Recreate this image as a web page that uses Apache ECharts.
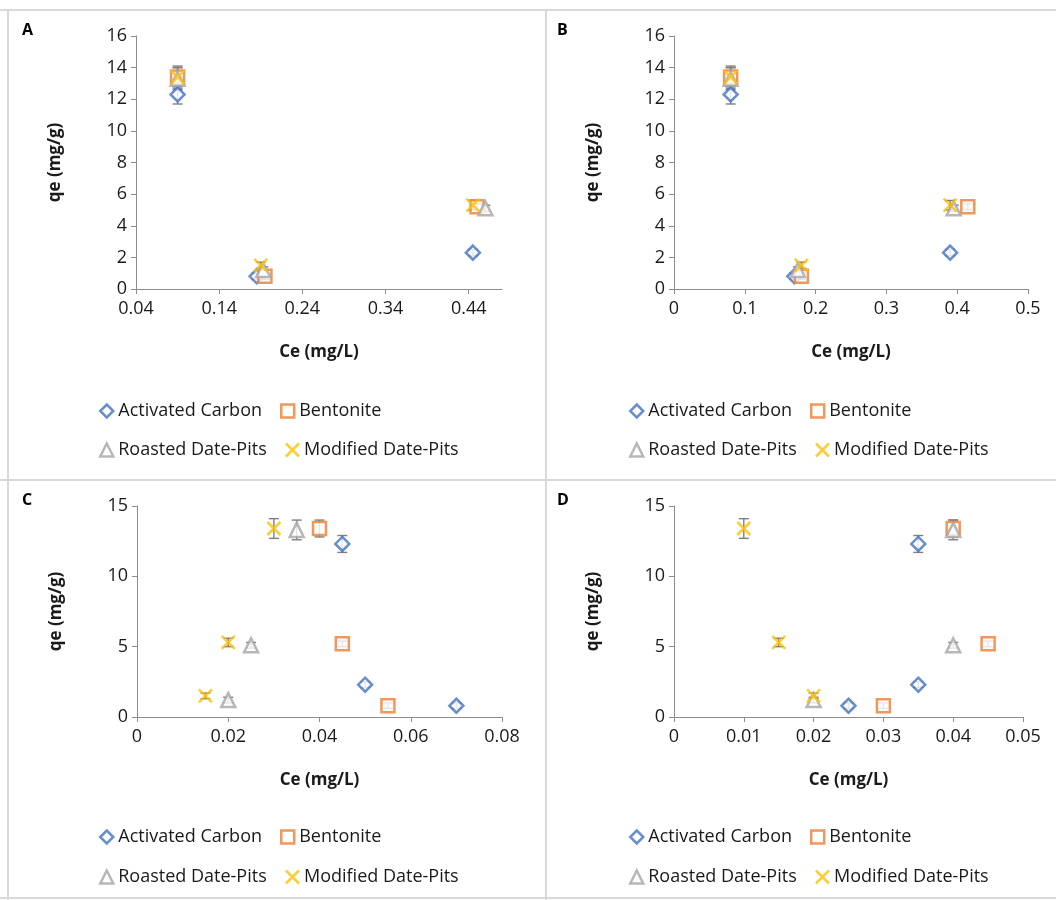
<!DOCTYPE html>
<html>
<head>
<meta charset="utf-8">
<script src="https://cdn.jsdelivr.net/npm/echarts@6/dist/echarts.min.js"></script>
<style>
html,body{margin:0;padding:0;background:#fff;}
#c{width:1056px;height:900px;}
</style>
</head>
<body>
<div id="c"></div>
<script>
// ---- data ----
const seriesNames = ['Activated Carbon', 'Bentonite', 'Roasted Date-Pits', 'Modified Date-Pits'];
const panelLabels = ['A', 'B', 'C', 'D'];

// qe (mg/g) values per adsorbent (three points each)
const qeActivated = [12.3, 0.8, 2.3];
const qeBentonite = [13.4, 0.8, 5.2];
const qeRoasted = [13.3, 1.2, 5.1];
const qeModified = [13.4, 1.5, 5.3];

// error (± mg/g)
const errActivated = [0.6, 0.2, 0.2];
const errBentonite = [0.6, 0.2, 0.2];
const errRoasted = [0.7, 0.2, 0.2];
const errModified = [0.7, 0.2, 0.3];

// Ce (mg/L) per panel
const ceA_Activated = [0.09, 0.185, 0.445];
const ceA_Bentonite = [0.09, 0.195, 0.45];
const ceA_Roasted = [0.09, 0.193, 0.46];
const ceA_Modified = [0.09, 0.19, 0.445];

const ceB_Activated = [0.08, 0.17, 0.39];
const ceB_Bentonite = [0.08, 0.18, 0.415];
const ceB_Roasted = [0.08, 0.175, 0.395];
const ceB_Modified = [0.08, 0.18, 0.39];

const ceC_Activated = [0.045, 0.07, 0.05];
const ceC_Bentonite = [0.04, 0.055, 0.045];
const ceC_Roasted = [0.035, 0.02, 0.025];
const ceC_Modified = [0.03, 0.015, 0.02];

const ceD_Activated = [0.035, 0.025, 0.035];
const ceD_Bentonite = [0.04, 0.03, 0.045];
const ceD_Roasted = [0.04, 0.02, 0.04];
const ceD_Modified = [0.01, 0.02, 0.015];

// axis tick settings
const xMin = [0.04, 0, 0, 0];
const xMax = [0.48, 0.5, 0.08, 0.05];
const xStep = [0.1, 0.1, 0.02, 0.01];
const yMax = [16, 16, 15, 15];
const yStep = [2, 2, 5, 5];

// ---- build ----
const FONT = '"Open Sans"';
const FS = 18;
const colors = ['#4472C4', '#ED7D31', '#A5A5A5', '#FFC000'];
const symbols = ['diamond', 'rect', 'triangle', 'path://M0,0L10,10M10,0L0,10'];
const symbolSizes = [14, 13, 14, 13];
const qeAll = [qeActivated, qeBentonite, qeRoasted, qeModified];
const errAll = [errActivated, errBentonite, errRoasted, errModified];
const ceAll = [
  [ceA_Activated, ceA_Bentonite, ceA_Roasted, ceA_Modified],
  [ceB_Activated, ceB_Bentonite, ceB_Roasted, ceB_Modified],
  [ceC_Activated, ceC_Bentonite, ceC_Roasted, ceC_Modified],
  [ceD_Activated, ceD_Bentonite, ceD_Roasted, ceD_Modified]
];

const grids = [
  {left: 136, top: 36, width: 366, height: 253},
  {left: 674, top: 36, width: 354, height: 253},
  {left: 137, top: 506, width: 365, height: 211},
  {left: 674, top: 506, width: 349, height: 211}
];
const legendPos = [
  {left: 99, top1: 402, top2: 441},
  {left: 629, top1: 402, top2: 441},
  {left: 99, top1: 828, top2: 868},
  {left: 629, top1: 828, top2: 868}
];

const axisCommon = {
  axisLine: {show: true, lineStyle: {color: '#8c8c8c', width: 1}},
  axisTick: {show: true, length: 5, inside: false, lineStyle: {color: '#8c8c8c'}},
  splitLine: {show: false},
  axisLabel: {color: '#1a1a1a', fontFamily: FONT, fontSize: FS},
  nameTextStyle: {color: '#1a1a1a', fontFamily: FONT, fontSize: FS - 1, fontWeight: 'bold'}
};

const xAxes = [], yAxes = [], series = [], legends = [];
for (let p = 0; p < 4; p++) {
  xAxes.push(Object.assign({}, axisCommon, {
    type: 'value', gridIndex: p, min: xMin[p], max: xMax[p], interval: xStep[p],
    name: 'Ce (mg/L)', nameLocation: 'middle', nameGap: 55,
    axisLabel: Object.assign({}, axisCommon.axisLabel, {margin: 11, showMaxLabel: p !== 0,
      formatter: v => String(+v.toFixed(3))})
  }));
  yAxes.push(Object.assign({}, axisCommon, {
    type: 'value', gridIndex: p, min: 0, max: yMax[p], interval: yStep[p],
    name: 'qe (mg/g)', nameLocation: 'middle', nameGap: 72,
    axisLabel: Object.assign({}, axisCommon.axisLabel, {margin: 9})
  }));
  for (let s = 0; s < 4; s++) {
    const errData = ceAll[p][s].map((x, i) => [x, qeAll[s][i], errAll[s][i]]);
    series.push({
      type: 'custom', xAxisIndex: p, yAxisIndex: p, z: 1, silent: true,
      encode: {x: 0, y: 1},
      data: errData,
      renderItem: function (params, api) {
        const x = api.value(0), y = api.value(1), e = api.value(2);
        const t = api.coord([x, y + e]), b = api.coord([x, y - e]);
        const w = 5, st = {stroke: '#7f7f7f', lineWidth: 1.4};
        return {type: 'group', children: [
          {type: 'line', shape: {x1: t[0], y1: t[1], x2: b[0], y2: b[1]}, style: st},
          {type: 'line', shape: {x1: t[0] - w, y1: t[1], x2: t[0] + w, y2: t[1]}, style: st},
          {type: 'line', shape: {x1: b[0] - w, y1: b[1], x2: b[0] + w, y2: b[1]}, style: st}
        ]};
      }
    });
  }
  for (let s = 0; s < 4; s++) {
    series.push({
      type: 'scatter', name: seriesNames[s], xAxisIndex: p, yAxisIndex: p, z: 3,
      symbol: symbols[s], symbolSize: symbolSizes[s],
      itemStyle: {color: s === 3 ? 'rgba(255,255,255,0)' : '#ffffff', borderColor: colors[s], borderWidth: 2.5},
      data: ceAll[p][s].map((x, i) => [x, qeAll[s][i]])
    });
  }
  const lp = legendPos[p];
  const legCommon = {
    left: lp.left, orient: 'horizontal', itemWidth: 13, itemHeight: 13, itemGap: 18, padding: 0,
    textStyle: {color: '#1a1a1a', fontFamily: FONT, fontSize: FS}, selectedMode: false,
    itemStyle: {borderWidth: 2.5}
  };
  legends.push(Object.assign({}, legCommon, {top: lp.top1, data: [seriesNames[0], seriesNames[1]]}));
  legends.push(Object.assign({}, legCommon, {top: lp.top2, data: [seriesNames[2], seriesNames[3]]}));
}

const borderStyle = {stroke: '#d9d9d9', lineWidth: 2};
const graphics = [
  {type: 'line', shape: {x1: 0, y1: 10, x2: 1056, y2: 10}, style: borderStyle},
  {type: 'line', shape: {x1: 0, y1: 480, x2: 1056, y2: 480}, style: borderStyle},
  {type: 'line', shape: {x1: 8, y1: 10, x2: 8, y2: 900}, style: borderStyle},
  {type: 'line', shape: {x1: 546, y1: 10, x2: 546, y2: 900}, style: borderStyle},
  {type: 'line', shape: {x1: 0, y1: 898, x2: 1056, y2: 898}, style: borderStyle}
];
const labelPos = [[22, 22], [557, 22], [22, 492], [557, 492]];
for (let p = 0; p < 4; p++) {
  graphics.push({type: 'text', left: labelPos[p][0], top: labelPos[p][1],
    style: {text: panelLabels[p], font: 'bold 16px ' + FONT, fill: '#000'}});
}

const chart = echarts.init(document.getElementById('c'), null, {renderer: 'canvas'});
chart.setOption({
  animation: false,
  backgroundColor: '#fff',
  color: colors,
  grid: grids,
  xAxis: xAxes,
  yAxis: yAxes,
  legend: legends,
  series: series,
  graphic: graphics
});
</script>
</body>
</html>
